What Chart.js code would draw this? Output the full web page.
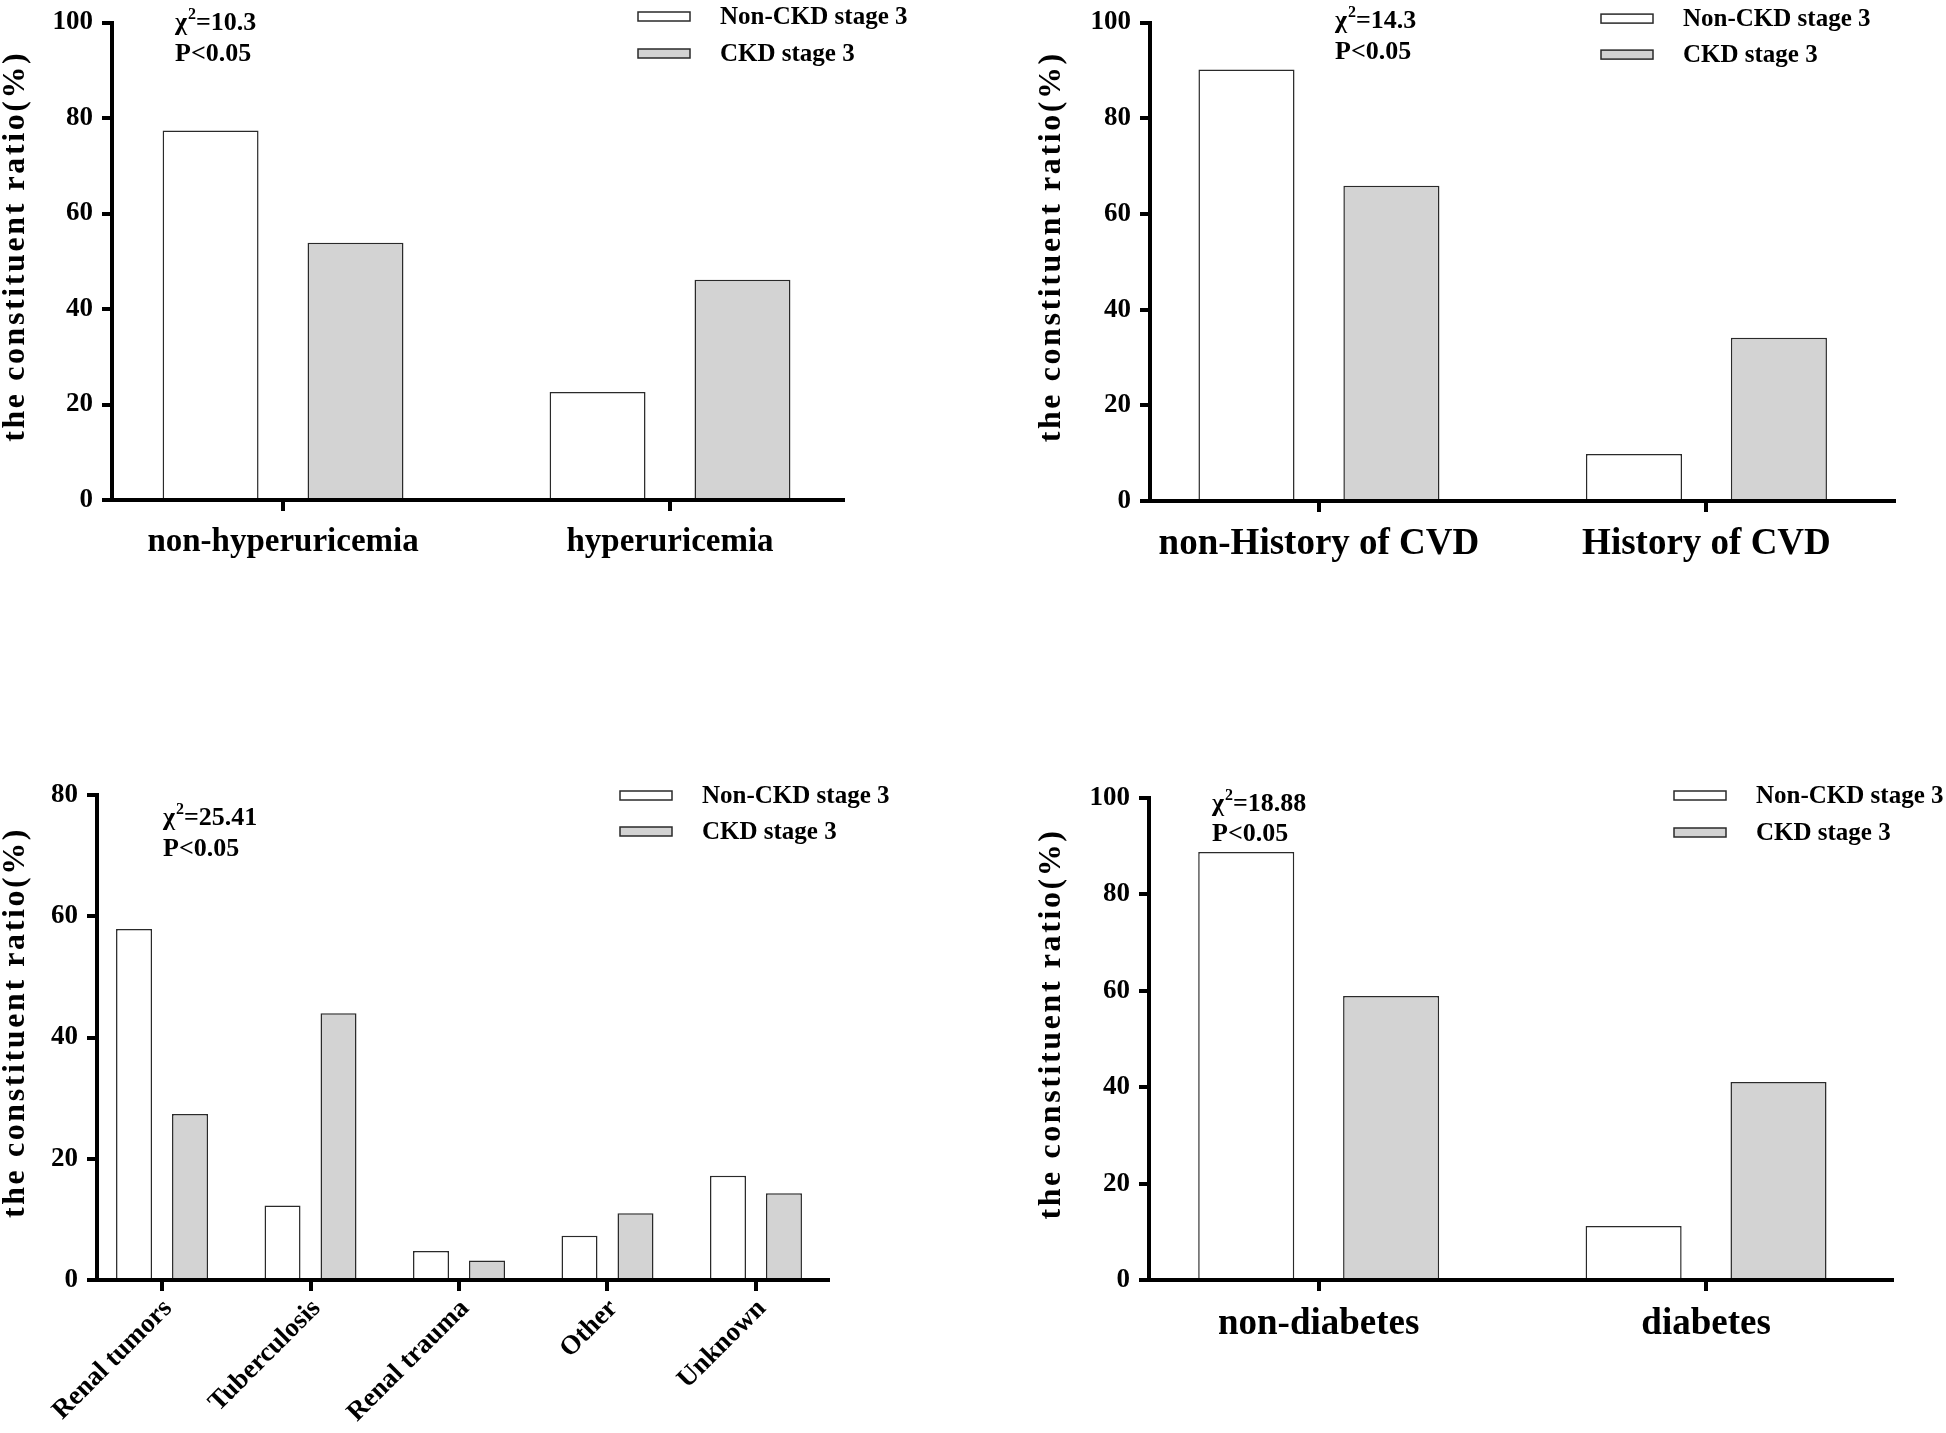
<!DOCTYPE html>
<html>
<head>
<meta charset="utf-8">
<script src="https://cdn.jsdelivr.net/npm/chart.js@4.4.1/dist/chart.umd.min.js"></script>
<style>
  html, body { margin: 0; padding: 0; background: #fff; }
  body { width: 1946px; height: 1433px; position: relative; overflow: hidden; }
  .panel { position: absolute; }
</style>
</head>
<body>
<div class="panel" style="left:0px;top:0px"><canvas id="c1" width="973" height="600"></canvas></div>
<div class="panel" style="left:973px;top:0px"><canvas id="c2" width="973" height="600"></canvas></div>
<div class="panel" style="left:0px;top:716px"><canvas id="c3" width="973" height="717"></canvas></div>
<div class="panel" style="left:973px;top:716px"><canvas id="c4" width="973" height="717"></canvas></div>
<script>
// ---------------- data ----------------
const seriesNames = ['Non-CKD stage 3', 'CKD stage 3'];

const uricCategories = ['non-hyperuricemia', 'hyperuricemia'];
const uricNonCKD = [77.4, 22.6];
const uricCKD = [53.9, 46.1];

const cvdCategories = ['non-History of CVD', 'History of CVD'];
const cvdNonCKD = [90.2, 9.8];
const cvdCKD = [65.9, 34.1];

const causeCategories = ['Renal tumors', 'Tuberculosis', 'Renal trauma', 'Other', 'Unknown'];
const causeNonCKD = [57.9, 12.3, 4.8, 7.3, 17.2];
const causeCKD = [27.4, 44.0, 3.2, 11.0, 14.3];

const diabCategories = ['non-diabetes', 'diabetes'];
const diabNonCKD = [88.8, 11.2];
const diabCKD = [58.9, 41.1];

const chiValues = ['10.3', '14.3', '25.41', '18.88'];
const pTexts = ['P<0.05', 'P<0.05', 'P<0.05', 'P<0.05'];
const yMaxes = [100, 100, 80, 100];
const yStep = 20;
const yTitle = 'the constituent ratio(%)';

// ---------------- styles ----------------
const FONT = '"Liberation Serif", "Times New Roman", serif';
const WHITE = '#ffffff';
const GRAY = '#d3d3d3';
const EDGE = '#2a2a2a';

// letter-spaced y title (slightly raised above the axis middle)
const spacedTitle = {
  id: 'spacedTitle',
  afterLayout(chart, args, o) {
    const s = chart.scales.y;
    if (s && !s.__spaced) {
      const orig = s.drawTitle;
      s.drawTitle = function () {
        const ctx = this.ctx;
        ctx.save();
        ctx.letterSpacing = o.spacing;
        ctx.translate(0, o.shift);
        orig.apply(this, arguments);
        ctx.restore();
      };
      s.__spaced = true;
    }
  }
};

// legend box drawn from the datasets
const boxLegend = {
  id: 'boxLegend',
  afterDraw(chart, args, o) {
    const ctx = chart.ctx;
    ctx.save();
    ctx.font = `bold ${o.size}px ${FONT}`;
    ctx.textAlign = 'left';
    ctx.textBaseline = 'middle';
    chart.data.datasets.forEach((ds, i) => {
      const cy = o.y + i * o.gap;
      ctx.fillStyle = ds.backgroundColor;
      ctx.fillRect(o.x, cy - o.h / 2, o.w, o.h);
      ctx.strokeStyle = ds.borderColor;
      ctx.lineWidth = 1.5;
      ctx.strokeRect(o.x, cy - o.h / 2, o.w, o.h);
      ctx.fillStyle = '#000';
      ctx.fillText(ds.label, o.x + o.w + o.textGap, cy + 1);
    });
    ctx.restore();
  }
};

// chi-square note
const chiNote = {
  id: 'chiNote',
  afterDraw(chart, args, o) {
    const ctx = chart.ctx;
    ctx.save();
    ctx.fillStyle = '#000';
    ctx.textAlign = 'left';
    ctx.textBaseline = 'alphabetic';
    let x = o.x;
    ctx.font = `bold ${o.size}px ${FONT}`;
    ctx.fillText('\u03C7', x, o.y1);
    x += ctx.measureText('\u03C7').width;
    ctx.font = `bold ${Math.round(o.size * 0.62)}px ${FONT}`;
    ctx.fillText('2', x + 1, o.y1 - o.size * 0.42);
    x += ctx.measureText('2').width + 1;
    ctx.font = `bold ${o.size}px ${FONT}`;
    ctx.fillText('=' + o.value, x, o.y1);
    ctx.fillText(o.p, o.x, o.y2);
    ctx.restore();
  }
};

function makeChart(id, cats, nonCKD, ckd, idx, g) {
  const datasets = [
    { label: seriesNames[0], data: nonCKD.map((v, i) => ({ x: i, y: v })),
      backgroundColor: WHITE, borderColor: EDGE, borderWidth: 1.5 },
    { label: seriesNames[1], data: ckd.map((v, i) => ({ x: i, y: v })),
      backgroundColor: GRAY, borderColor: EDGE, borderWidth: 1.5 }
  ];
  return new Chart(document.getElementById(id), {
    type: 'bar',
    data: { datasets },
    plugins: [spacedTitle, boxLegend, chiNote],
    options: {
      responsive: false,
      animation: false,
      devicePixelRatio: 1,
      layout: { padding: { left: 0, top: g.padTop, right: g.padRight, bottom: 0 } },
      datasets: { bar: { categoryPercentage: g.catPct, barPercentage: g.barPct, grouped: true } },
      scales: {
        x: {
          type: 'linear',
          offset: false,
          min: g.xMin, max: g.xMax,
          afterFit: (s) => { s.height = g.xHeight; },
          border: { display: true, color: '#000', width: 4 },
          grid: { display: true, offset: false, drawOnChartArea: false, drawTicks: true, tickLength: 11,
                  tickWidth: 4, tickColor: '#000', lineWidth: 4, color: '#000' },
          ticks: {
            stepSize: 1, includeBounds: false, autoSkip: false,
            maxRotation: g.rot, minRotation: g.rot,
            padding: g.xPad, labelOffset: g.xShift, color: '#000',
            font: { family: FONT, size: g.xFont, weight: 'bold', lineHeight: 1.2 },
            callback: (v) => (cats[v] !== undefined ? cats[v] : '')
          }
        },
        y: {
          min: 0, max: yMaxes[idx],
          afterFit: (s) => { s.width = g.yWidth; },
          border: { display: true, color: '#000', width: 4 },
          grid: { display: true, drawOnChartArea: false, drawTicks: true, tickLength: 10,
                  tickWidth: 4, tickColor: '#000', lineWidth: 4, color: '#000' },
          ticks: {
            stepSize: yStep, padding: 9, color: '#000',
            font: { family: FONT, size: 27, weight: 'bold', lineHeight: 1 }
          },
          title: {
            display: true, text: yTitle, color: '#000',
            padding: { top: g.titlePad, bottom: 0 },
            font: { family: FONT, size: 32, weight: 'bold', lineHeight: 1 }
          }
        }
      },
      plugins: {
        legend: { display: false },
        tooltip: { enabled: false },
        spacedTitle: { spacing: '2.6px', shift: -15 },
        boxLegend: { x: g.legX, y: g.legY, gap: g.legGap, w: 52, h: 9, textGap: 30, size: 25 },
        chiNote: { x: g.noteX, y1: g.noteY1, y2: g.noteY2, size: 26, value: chiValues[idx], p: pTexts[idx] }
      }
    }
  });
}

makeChart('c1', uricCategories, uricNonCKD, uricCKD, 0, {
  padTop: 15, padRight: 130, yWidth: 112, xHeight: 100, xMin: -0.442, xMax: 1.447,
  titlePad: 0, xFont: 33, xPad: 12, xShift: 0, rot: 0, catPct: 0.749, barPct: 0.662,
  legX: 638, legY: 16.5, legGap: 37, noteX: 175, noteY1: 30, noteY2: 61
});
makeChart('c2', cvdCategories, cvdNonCKD, cvdCKD, 1, {
  padTop: 15, padRight: 52, yWidth: 177, xHeight: 99, xMin: -0.436, xMax: 1.484,
  titlePad: 63, xFont: 37, xPad: 10, xShift: 0, rot: 0, catPct: 0.748, barPct: 0.663,
  legX: 628, legY: 18.6, legGap: 36, noteX: 362, noteY1: 28, noteY2: 59
});
makeChart('c3', causeCategories, causeNonCKD, causeCKD, 2, {
  padTop: 79, padRight: 145, yWidth: 97, xHeight: 153, xMin: -0.438, xMax: 4.485,
  titlePad: 0, xFont: 27, xPad: 2, xShift: 6, rot: 45, catPct: 0.754, barPct: 0.643,
  legX: 620, legY: 79.5, legGap: 36, noteX: 163, noteY1: 109, noteY2: 140
});
makeChart('c4', diabCategories, diabNonCKD, diabCKD, 3, {
  padTop: 82, padRight: 54, yWidth: 176, xHeight: 153, xMin: -0.438, xMax: 1.480,
  titlePad: 63, xFont: 37, xPad: 11, xShift: 0, rot: 0, catPct: 0.748, barPct: 0.663,
  legX: 701, legY: 79.5, legGap: 37, noteX: 239, noteY1: 95, noteY2: 125
});
</script>
</body>
</html>
